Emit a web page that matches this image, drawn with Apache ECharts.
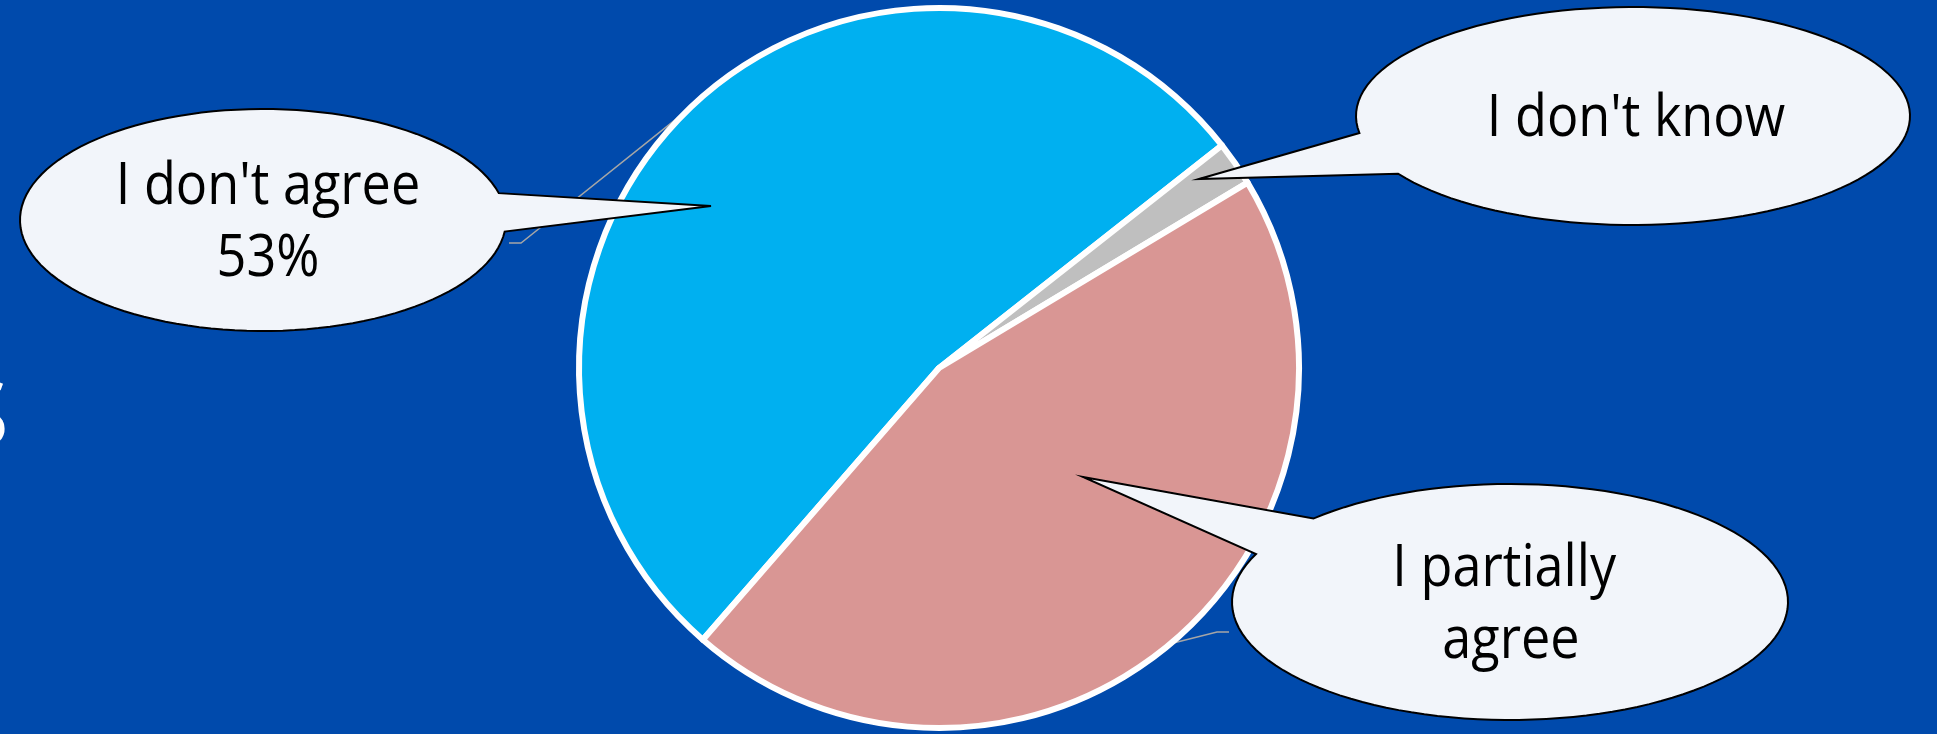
<!DOCTYPE html>
<html>
<head>
<meta charset="utf-8">
<script src="https://cdn.jsdelivr.net/npm/echarts@6/dist/echarts.min.js"></script>
<style>
  html, body { margin: 0; padding: 0; background: #004AAC; }
  #chart { width: 1937px; height: 734px; }
</style>
</head>
<body>
<div id="chart"></div>
<script>
// Survey answers and their shares (percent)
const categories = ["I don't agree", "I don't know", "I partially agree"];
const shares = [53, 2, 45];
const sliceColors = ['#00B0F0', '#BFBFBF', '#D99694'];
const showShareInCallout = [true, false, false];

// Pie placement
const PIE_CENTER = [939, 368];
const PIE_RADIUS = 360;
const START_ANGLE = 229;

// Speech-bubble callouts, one per slice (ellipse, tail angles in degrees, tail tip, guide bend)
const callouts = [
  { cx: 263, cy: 220, rx: 243, ry: 111, tail: [-14, 6], tip: [711, 206], wrap: 420, tx: 268, ty: 223,
    guide: [[521, 243], [509, 243]] },
  { cx: 1633, cy: 116, rx: 277, ry: 109, tail: [148, 171], tip: [1199, 179], wrap: 420, tx: 1636, ty: 119,
    guide: null },
  { cx: 1510, cy: 602, rx: 278, ry: 118, tail: [204, 225], tip: [1083, 477], wrap: 300, tx: 1511, ty: 605,
    guide: [[1217, 632], [1229, 632]] }
];

function bubblePoints(c) {
  const rad = Math.PI / 180;
  const t1 = c.tail[0], t2 = c.tail[1];
  const sweep = 360 - (t2 - t1);
  const pts = [c.tip.slice()];
  const N = 120;
  for (let k = 0; k <= N; k++) {
    const t = (t2 + sweep * k / N) * rad;
    pts.push([c.cx + c.rx * Math.cos(t), c.cy + c.ry * Math.sin(t)]);
  }
  return pts;
}

// Point on the pie rim at the middle of a slice
function sliceRimPoint(idx) {
  const total = shares.reduce((a, b) => a + b, 0);
  let before = 0;
  for (let i = 0; i < idx; i++) before += shares[i];
  const ang = (START_ANGLE - (before + shares[idx] / 2) / total * 360) * Math.PI / 180;
  return [PIE_CENTER[0] + PIE_RADIUS * Math.cos(ang), PIE_CENTER[1] - PIE_RADIUS * Math.sin(ang)];
}

const graphics = [];
callouts.forEach((c, i) => {
  graphics.push({
    type: 'polygon',
    z: 10,
    shape: { points: bubblePoints(c) },
    style: { fill: '#F2F5FA', stroke: '#000', lineWidth: 2, lineJoin: 'miter' }
  });
  const text = showShareInCallout[i] ? categories[i] + '\n' + shares[i] + '%' : categories[i];
  graphics.push({
    type: 'text',
    z: 11,
    x: c.tx,
    y: c.ty,
    scaleX: 0.9,
    style: {
      text: text,
      x: 0, y: 0,
      width: c.wrap,
      overflow: 'break',
      align: 'center',
      verticalAlign: 'middle',
      fill: '#000',
      font: '58px "Open Sans"',
      lineHeight: 72
    }
  });
});

// Fragment of a white heading cut by the left edge
graphics.push({
  type: 'text',
  z: 11,
  x: 9, y: 420,
  style: { text: 'S', align: 'right', verticalAlign: 'middle', fill: '#fff', font: '92px "Open Sans"' }
});

const chart = echarts.init(document.getElementById('chart'), null, { renderer: 'canvas' });
chart.setOption({
  backgroundColor: '#004AAC',
  animation: false,
  graphic: graphics,
  series: [{
    type: 'pie',
    z: 2,
    center: PIE_CENTER,
    radius: PIE_RADIUS,
    startAngle: START_ANGLE,
    clockwise: true,
    data: categories.map((name, i) => ({
      name: name,
      value: shares[i],
      itemStyle: { color: sliceColors[i] },
      labelLine: { show: !!callouts[i].guide }
    })),
    itemStyle: { borderColor: '#FFFFFF', borderWidth: 6 },
    label: { show: true, formatter: () => '' },
    labelLine: { show: true, length: 10, length2: 10, lineStyle: { color: '#A6A6A6', width: 1.5 } },
    labelLayout: function (params) {
      const c = callouts[params.dataIndex];
      if (!c.guide) return {};
      return { labelLinePoints: [sliceRimPoint(params.dataIndex), c.guide[0], c.guide[1]] };
    },
    emphasis: { disabled: true }
  }]
});
</script>
</body>
</html>
